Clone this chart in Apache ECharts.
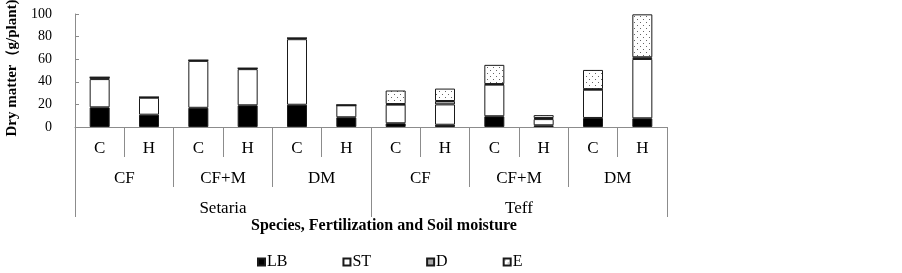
<!DOCTYPE html>
<html><head><meta charset="utf-8">
<script src="https://cdn.jsdelivr.net/npm/echarts@6/dist/echarts.min.js"></script>
<style>html,body{margin:0;padding:0;background:#fff;}#c{width:902px;height:273px;}</style>
</head><body><div id="c"></div>
<script>
const moisture = ['C','H','C','H','C','H','C','H','C','H','C','H'];
const fertilization = ['CF','CF+M','DM','CF','CF+M','DM'];
const species = ['Setaria','Teff'];
const seriesNames = ['LB','ST','D','E'];
const LB = [17.4, 10.9, 17, 19.2, 19.7, 8.6, 3.3, 2, 9.5, 1.5, 8, 7.7];
const ST = [25, 15, 41.5, 32, 58, 10.6, 16.5, 18, 28, 5.5, 25, 52.5];
const D  = [1.6, 0.5, 0.6, 0.8, 1, 0.2, 0.5, 3, 0.5, 1, 0.5, 1.5];
const E  = [0, 0, 0, 0, 0, 0, 12, 11, 17, 2.5, 17, 38];
const yTicks = [0, 20, 40, 60, 80, 100];

const FONT = '"Liberation Serif","Times New Roman",serif';
const axisGrey = '#8c8c8c';

// dotted pattern for E
const pc = document.createElement('canvas');
pc.width = 6; pc.height = 6;
const pctx = pc.getContext('2d');
pctx.fillStyle = '#fff'; pctx.fillRect(0,0,6,6);
pctx.fillStyle = '#666';
pctx.fillRect(1,1,1,1); pctx.fillRect(4,4,1,1);

const chart = echarts.init(document.getElementById('c'), null, {renderer:'canvas'});
const border = {borderColor:'#1a1a1a', borderWidth:1};
const colors = ['#000000', '#ffffff', '#a6a6a6', {image: pc, repeat: 'repeat'}];
const values = [LB, ST, D, E];

chart.setOption({
  animation:false,
  textStyle:{fontFamily:FONT},
  grid:{left:75, right:235, top:14, bottom:146, containLabel:false, outerBoundsMode:'none'},
  legend:{
    left:252, top:249, itemWidth:7, itemHeight:7, itemGap:55, icon:'rect',
    textStyle:{fontFamily:FONT, fontSize:16, color:'#000', padding:[0,0,0,-3]},
    data: seriesNames
  },
  xAxis:[
    {type:'category', data:moisture, position:'bottom',
     axisLine:{show:true, lineStyle:{color:axisGrey}},
     axisTick:{show:true, length:30, interval:0, lineStyle:{color:axisGrey}},
     axisLabel:{fontFamily:FONT, fontSize:17, color:'#000', margin:13, interval:0}},
    {type:'category', data:fertilization, position:'bottom',
     axisLine:{show:false},
     axisTick:{show:true, length:60, interval:0, lineStyle:{color:axisGrey}},
     axisLabel:{fontFamily:FONT, fontSize:17, color:'#000', margin:43, interval:0}},
    {type:'category', data:species, position:'bottom',
     axisLine:{show:false},
     axisTick:{show:true, length:90, interval:0, lineStyle:{color:axisGrey}},
     axisLabel:{fontFamily:FONT, fontSize:17, color:'#000', margin:73, interval:0},
     name:'Species, Fertilization and Soil moisture', nameLocation:'middle', nameGap:90,
     nameTextStyle:{fontFamily:FONT, fontSize:16, fontWeight:'bold', color:'#000', padding:[0,0,0,26]}}
  ],
  yAxis:{
    type:'value', min:yTicks[0], max:yTicks[yTicks.length-1], interval:20,
    axisLine:{show:true, lineStyle:{color:axisGrey}},
    axisTick:{show:true, inside:true, length:4, lineStyle:{color:axisGrey}},
    splitLine:{show:false},
    axisLabel:{fontFamily:FONT, fontSize:14, color:'#000', margin:23},
    name:'Dry matter（g/plant)', nameLocation:'middle', nameGap:51, nameRotate:90,
    nameTextStyle:{fontFamily:FONT, fontSize:15, fontWeight:'bold', color:'#000', padding:[0,0,0,5]}
  },
  series: seriesNames.map((n,i)=>({
    name:n, type:'bar', stack:'total', xAxisIndex:0, barWidth:20,
    data: values[i],
    itemStyle:Object.assign({color:colors[i]}, border)
  }))
});
</script></body></html>
